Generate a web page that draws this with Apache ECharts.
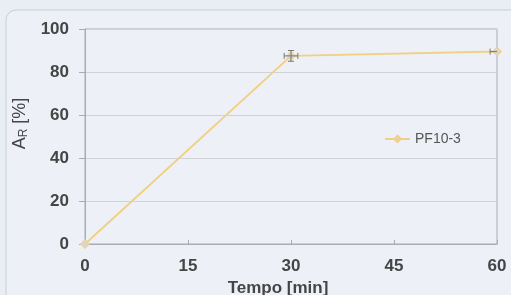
<!DOCTYPE html>
<html><head><meta charset="utf-8">
<script src="https://cdn.jsdelivr.net/npm/echarts@6/dist/echarts.min.js"></script>
<style>html,body{margin:0;padding:0;background:#e9eef5;}#c{width:511px;height:295px;}</style>
</head><body><div id="c"></div>
<script>
const seriesName = 'PF10-3';
const times = [0, 30, 60];
const values = [0, 87.5, 89.5];
const xErr = [0, 1, 1];
const yErr = [0, 2.5, 0];
const xTicks = [0, 15, 30, 45, 60];
const yTicks = [0, 20, 40, 60, 80, 100];

const lineColor = '#f0d183';
const errData = times.map((t, i) => [t, values[i], xErr[i], yErr[i]]);
const FF = 'Liberation Sans, Arial, sans-serif';

const chart = echarts.init(document.getElementById('c'));
const labelStyle = {color: '#454545', fontSize: 17, fontWeight: 'bold', fontFamily: FF};
chart.setOption({
  animation: false,
  backgroundColor: '#e9eef5',
  graphic: [{
    type: 'rect', z: -10, silent: true,
    shape: {x: 6, y: 10, width: 520, height: 300, r: 10},
    style: {fill: '#edf1f7', stroke: '#c9ced6', lineWidth: 1}
  }, {
    type: 'rect', z: -5, silent: true,
    shape: {x: 85, y: 29, width: 412, height: 215},
    style: {fill: 'none', stroke: '#a9adb3', lineWidth: 1}
  }],
  grid: {left: 85, right: 14, top: 29, bottom: 51, containLabel: false, outerBoundsMode: 'none'},
  legend: {
    show: true, left: 379, top: 127, orient: 'vertical',
    itemWidth: 25, itemHeight: 8, itemGap: 5,
    textStyle: {color: '#555', fontSize: 14, fontFamily: FF},
    data: [seriesName]
  },
  xAxis: {
    type: 'value', min: 0, max: 60, interval: 15,
    name: 'Tempo [min]', nameLocation: 'middle', nameGap: 35,
    nameTextStyle: {color: '#454545', fontSize: 17, fontWeight: 'bold', fontFamily: FF, padding: [0, 26, 0, 0]},
    axisLine: {show: true, lineStyle: {color: '#a9adb3'}},
    axisTick: {show: true, inside: true, length: 4, lineStyle: {color: '#a9adb3'}},
    axisLabel: Object.assign({margin: 14, formatter: v => xTicks.includes(v) ? String(v) : ''}, labelStyle),
    splitLine: {show: false}
  },
  yAxis: {
    type: 'value', min: 0, max: 100, interval: 20,
    name: '{a|A}{s|R}{a| [%]}', nameLocation: 'middle', nameGap: 49, nameRotate: 90,
    nameTextStyle: {padding: [0, 0, 0, 26], rich: {
      a: {color: '#454545', fontSize: 18, fontFamily: FF},
      s: {color: '#454545', fontSize: 12, fontFamily: FF, verticalAlign: 'bottom', padding: [8,0,0,0]}
    }},
    axisLine: {show: true, lineStyle: {color: '#a9adb3'}},
    axisTick: {show: true, inside: false, length: 6, lineStyle: {color: '#a9adb3'}},
    axisLabel: Object.assign({margin: 16, formatter: v => yTicks.includes(v) ? String(v) : ''}, labelStyle),
    splitLine: {show: true, lineStyle: {color: '#cfd3d8', width: 1}}
  },
  series: [{
    name: seriesName, type: 'line',
    data: times.map((t, i) => [t, values[i]]),
    symbol: 'diamond', symbolSize: 9, showAllSymbol: true,
    lineStyle: {color: lineColor, width: 2},
    itemStyle: {color: '#d9d6c8', borderColor: lineColor, borderWidth: 1},
    z: 3
  }, {
    type: 'custom', name: 'err', silent: true, z: 4,
    data: errData,
    renderItem: function (params, api) {
      const x = api.value(0), y = api.value(1), ex = api.value(2), ey = api.value(3);
      const children = [];
      const st = {stroke: '#777', lineWidth: 1};
      if (ex > 0) {
        const l = api.coord([x - ex, y]), r = api.coord([x + (x + ex <= 60 ? ex : 0), y]);
        children.push({type: 'line', shape: {x1: l[0], y1: l[1], x2: r[0], y2: r[1]}, style: st});
        children.push({type: 'line', shape: {x1: l[0], y1: l[1]-3, x2: l[0], y2: l[1]+3}, style: st});
        if (x + ex <= 60) children.push({type: 'line', shape: {x1: r[0], y1: r[1]-3, x2: r[0], y2: r[1]+3}, style: st});
      }
      if (ey > 0) {
        const t = api.coord([x, y + ey]), b = api.coord([x, y - ey]);
        children.push({type: 'line', shape: {x1: t[0], y1: t[1], x2: b[0], y2: b[1]}, style: st});
        children.push({type: 'line', shape: {x1: t[0]-3, y1: t[1], x2: t[0]+3, y2: t[1]}, style: st});
        children.push({type: 'line', shape: {x1: b[0]-3, y1: b[1], x2: b[0]+3, y2: b[1]}, style: st});
      }
      return {type: 'group', children: children};
    }
  }]
});
</script></body></html>
